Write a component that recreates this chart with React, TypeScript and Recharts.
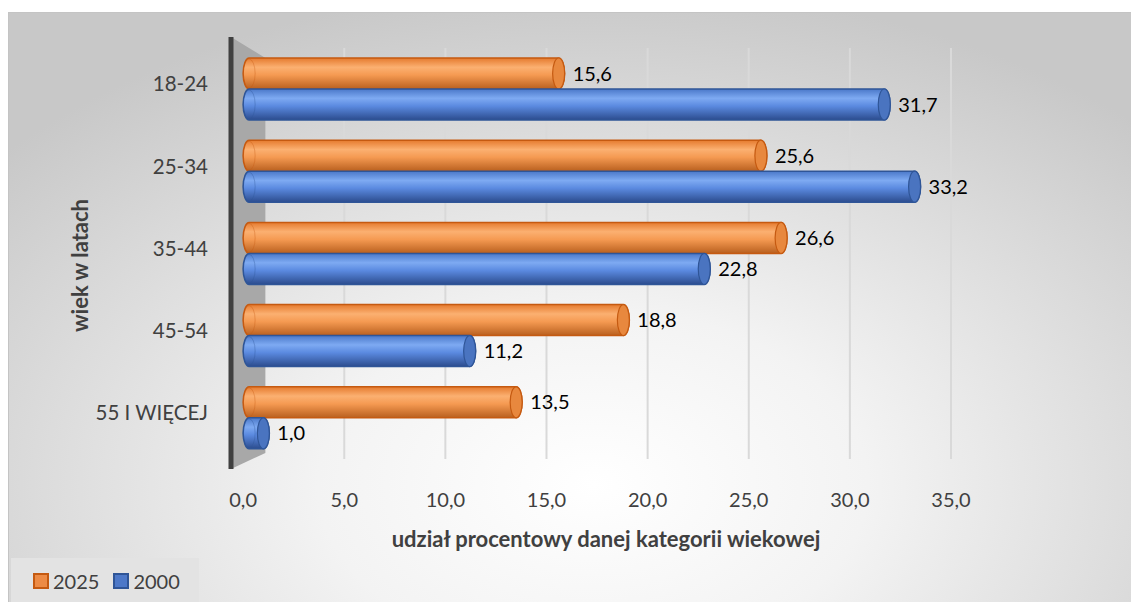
import React from 'react';
import {
  BarChart,
  Bar,
  XAxis,
  YAxis,
  CartesianGrid,
  LabelList,
  ReferenceArea,
} from 'recharts';

// age groups and shares (%)
const ageGroups = ['18-24', '25-34', '35-44', '45-54', '55 I WIĘCEJ'];
const share2025 = [15.6, 25.6, 26.6, 18.8, 13.5];
const share2000 = [31.7, 33.2, 22.8, 11.2, 1.0];
const seriesNames = ['2025', '2000'];
const xTicks = [0, 5, 10, 15, 20, 25, 30, 35];

const data = ageGroups.map((g, i) => ({ group: g, y2025: share2025[i], y2000: share2000[i] }));

const FONT = 'Lato, "Noto Sans", sans-serif';
const fmt = (v: number) => v.toFixed(1).replace('.', ',');

const COLORS = {
  y2025: { fill: 'url(#gOrange)', stroke: '#c55a11', cap: '#e8883e', swatch: '#ed8b45' },
  y2000: { fill: 'url(#gBlue)', stroke: '#2f5597', cap: '#4a74c0', swatch: '#4d78c8' },
};
const KEYS: ('y2025' | 'y2000')[] = ['y2025', 'y2000'];

function cylinder(kind: 'y2025' | 'y2000') {
  const c = COLORS[kind];
  return (props: any) => {
    const { x, y, width, height } = props;
    if (width == null || width <= 0) return null;
    const rx = 6;
    const ry = height / 2;
    const d = `M${x + rx},${y} L${x + width},${y} A${rx},${ry} 0 0 1 ${x + width},${y + height} L${x + rx},${y + height} A${rx},${ry} 0 0 1 ${x + rx},${y} Z`;
    return (
      <g>
        <path d={d} fill={c.fill} stroke={c.stroke} strokeWidth={1.5} />
        <ellipse cx={x + rx} cy={y + ry} rx={rx} ry={ry - 1} fill="none" stroke={c.stroke} strokeOpacity={0.35} />
        <ellipse cx={x + width} cy={y + ry} rx={rx} ry={ry} fill={c.cap} stroke={c.stroke} strokeWidth={1.2} />
      </g>
    );
  };
}

// side wall of the 3D plot, with the dark axis edge
const wallShape = (props: any) => {
  const { x, y, width, height } = props;
  const pts = `${x},${y - 11} ${x + width},${y + 10} ${x + width},${y + height - 6} ${x},${y + height + 10}`;
  return (
    <g>
      <polygon points={pts} fill="#a8a8a8" />
      <line x1={x} y1={y - 11} x2={x} y2={y + height + 10} stroke="#404040" strokeWidth={5} />
    </g>
  );
};

function LegendBox() {
  return (
    <div
      style={{
        position: 'absolute',
        left: 2,
        bottom: 0,
        width: 166,
        height: 45,
        display: 'flex',
        alignItems: 'center',
        gap: 14,
        background: '#e3e3e3',
        paddingLeft: 22,
        fontFamily: FONT,
        fontSize: 20,
        color: '#404040',
      }}
    >
      {KEYS.map((k, i) => {
        const c = COLORS[k];
        return (
          <span key={k} style={{ display: 'flex', alignItems: 'center', gap: 4 }}>
            <span
              style={{
                width: 12,
                height: 12,
                background: c.swatch,
                border: `2px solid ${c.stroke}`,
                display: 'inline-block',
              }}
            />
            {seriesNames[i]}
          </span>
        );
      })}
    </div>
  );
}

const yTitle = (props: any) => {
  const { viewBox } = props;
  const cy = viewBox.y + viewBox.height / 2 + 12;
  return (
    <text
      x={70}
      y={cy}
      transform={`rotate(-90, 70, ${cy})`}
      textAnchor="middle"
      dominantBaseline="central"
      fontFamily={FONT}
      fontWeight={700}
      fontSize={22}
      fill="#404040"
    >
      wiek w latach
    </text>
  );
};

export default function App() {
  return (
    <div
      style={{
        position: 'relative',
        marginTop: 4,
        width: 1123,
        height: 590,
        borderTop: '1px solid #c4c4c4',
        borderLeft: '1px solid #c4c4c4',
        background:
          'radial-gradient(ellipse 70% 85% at 52% 80%, #ffffff 0%, #f3f3f3 35%, #c8c8c8 100%)',
        overflow: 'hidden',
      }}
    >
      <BarChart
        width={1123}
        height={590}
        data={data}
        layout="vertical"
        margin={{ top: 35, right: 181, bottom: 44, left: 0 }}
        barGap={0}
        barCategoryGap={10}
        barSize={31}
      >
        <defs>
          <linearGradient id="gOrange" x1="0" y1="0" x2="0" y2="1">
            <stop offset="0%" stopColor="#e57a2e" />
            <stop offset="30%" stopColor="#fbb071" />
            <stop offset="55%" stopColor="#f59a52" />
            <stop offset="100%" stopColor="#b9601f" />
          </linearGradient>
          <linearGradient id="gBlue" x1="0" y1="0" x2="0" y2="1">
            <stop offset="0%" stopColor="#4a78c9" />
            <stop offset="30%" stopColor="#7eaaf2" />
            <stop offset="55%" stopColor="#5b8ae0" />
            <stop offset="100%" stopColor="#2c4c8e" />
          </linearGradient>
        </defs>
        <CartesianGrid horizontal={false} stroke="#d9d9d9" strokeWidth={2} />
        <ReferenceArea x1={-0.6} x2={1.1} shape={wallShape} ifOverflow="visible" />
        <XAxis
          type="number"
          domain={[-0.6, 35]}
          ticks={xTicks}
          tickFormatter={fmt}
          axisLine={false}
          tickLine={false}
          tickSize={0}
          tickMargin={34}
          height={100}
          tick={{ fontFamily: FONT, fontSize: 20, fill: '#404040' }}
          label={{
            value: 'udział procentowy danej kategorii wiekowej',
            position: 'insideBottom',
            offset: 12,
            dx: 15,
            style: { fontFamily: FONT, fontWeight: 700, fontSize: 22, fill: '#404040' },
          }}
        />
        <YAxis
          type="category"
          dataKey="group"
          width={222}
          axisLine={false}
          tickLine={false}
          tickSize={0}
          tickMargin={23}
          tick={{ fontFamily: FONT, fontSize: 20.5, fill: '#404040', dy: -5 }}
          label={{ content: yTitle }}
        />
        <Bar dataKey="y2025" name={seriesNames[0]} fill="#ed7d31" shape={cylinder('y2025')} isAnimationActive={false}>
          <LabelList
            dataKey="y2025"
            position="right"
            offset={14}
            formatter={(v: any) => fmt(Number(v))}
            style={{ fontFamily: FONT, fontSize: 20, fill: '#000' }}
          />
        </Bar>
        <Bar dataKey="y2000" name={seriesNames[1]} fill="#4472c4" shape={cylinder('y2000')} isAnimationActive={false}>
          <LabelList
            dataKey="y2000"
            position="right"
            offset={14}
            formatter={(v: any) => fmt(Number(v))}
            style={{ fontFamily: FONT, fontSize: 20, fill: '#000' }}
          />
        </Bar>
      </BarChart>
      <LegendBox />
    </div>
  );
}
